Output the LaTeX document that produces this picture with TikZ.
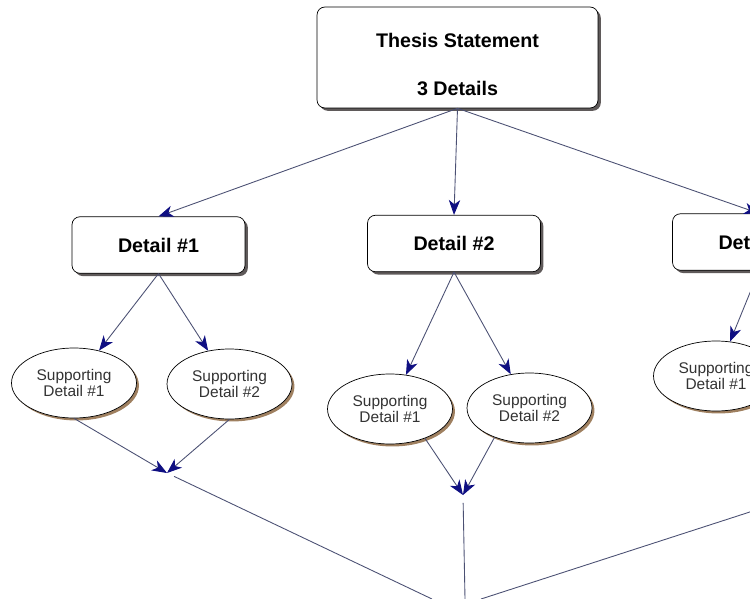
\documentclass[tikz,border=0pt]{standalone}
\usepackage{fontspec}
\setmainfont{Liberation Sans}
\usetikzlibrary{shapes.geometric,arrows.meta,shadows}

\definecolor{linkgray}{RGB}{75,80,115}
\definecolor{tipblue}{RGB}{15,15,130}
\definecolor{shadowgray}{RGB}{95,90,90}

\begin{document}
\begin{tikzpicture}[x=0.02cm, y=-0.02cm,
  box/.style = {draw, rounded corners=4.5pt, fill=white, align=center, inner sep=0pt,
    minimum width=3.46cm, minimum height=1.13cm,
    font=\fontsize{11.2}{13.5}\selectfont\bfseries,
    drop shadow={shadow xshift=1.6pt, shadow yshift=-1.6pt, fill=shadowgray, opacity=1}},
  sub/.style = {ellipse, draw, fill=white, align=center, inner sep=0pt,
    minimum width=2.5cm, minimum height=1.4cm, text=black!80,
    font=\fontsize{8.8}{9.4}\selectfont,
    drop shadow={shadow xshift=1.4pt, shadow yshift=-1.4pt, fill=brown!50!gray, opacity=1}},
  link/.style = {draw=linkgray, line width=0.5pt,
    -{Stealth[length=8.5pt, width=6.5pt, inset=2.5pt, color=tipblue]}},
  plain/.style = {draw=linkgray, line width=0.5pt, shorten <=4.5pt}]
  \useasboundingbox (0,0) rectangle (750,598);
  \clip (0,0) rectangle (750,598);

  \node[box, minimum width=5.62cm, minimum height=2.02cm] (thesis) at (457.5,57.5)
    {\rule{0pt}{16pt}Thesis Statement\\[14pt]3 Details};
  \node[box] (d1) at (158.5,245) {Detail \#1};
  \node[box] (d2) at (454,243.5) {Detail \#2};
  \node[box] (d3) at (759,242) {Detail \#3};

  \node[sub] (s11) at (74,383) {Supporting\\Detail \#1};
  \node[sub] (s12) at (229.5,384) {Supporting\\Detail \#2};
  \node[sub] (s21) at (390,409) {Supporting\\Detail \#1};
  \node[sub] (s22) at (529.5,408) {Supporting\\Detail \#2};
  \node[sub] (s31) at (716,376) {Supporting\\Detail \#1};

  \coordinate (m1) at (167,473);
  \coordinate (m2) at (463,495);
  \coordinate (m3) at (790,499);
  \coordinate (b1) at (432,599);
  \coordinate (b2) at (465,599);
  \coordinate (b3) at (481,599);

  \draw[link] (thesis.south) -- (d1.north);
  \draw[link] (thesis.south) -- (d2.north);
  \draw[link] (thesis.south) -- (d3.north);

  \draw[link] (d1.south) -- (s11);
  \draw[link] (d1.south) -- (s12);
  \draw[link] (d2.south) -- (s21);
  \draw[link] (d2.south) -- (s22);
  \draw[link] (d3.south) -- (s31);

  \draw[link] (s11.south) -- (m1);
  \draw[link] (s12.south) -- (m1);
  \draw[link] (s21.-40) -- (m2);
  \draw[link] (s22.220) -- (m2);

  \draw[plain] (m1) -- (b1);
  \draw[plain] (m2) -- (b2);
  \draw[plain] (m3) -- (b3);
\end{tikzpicture}
\end{document}
